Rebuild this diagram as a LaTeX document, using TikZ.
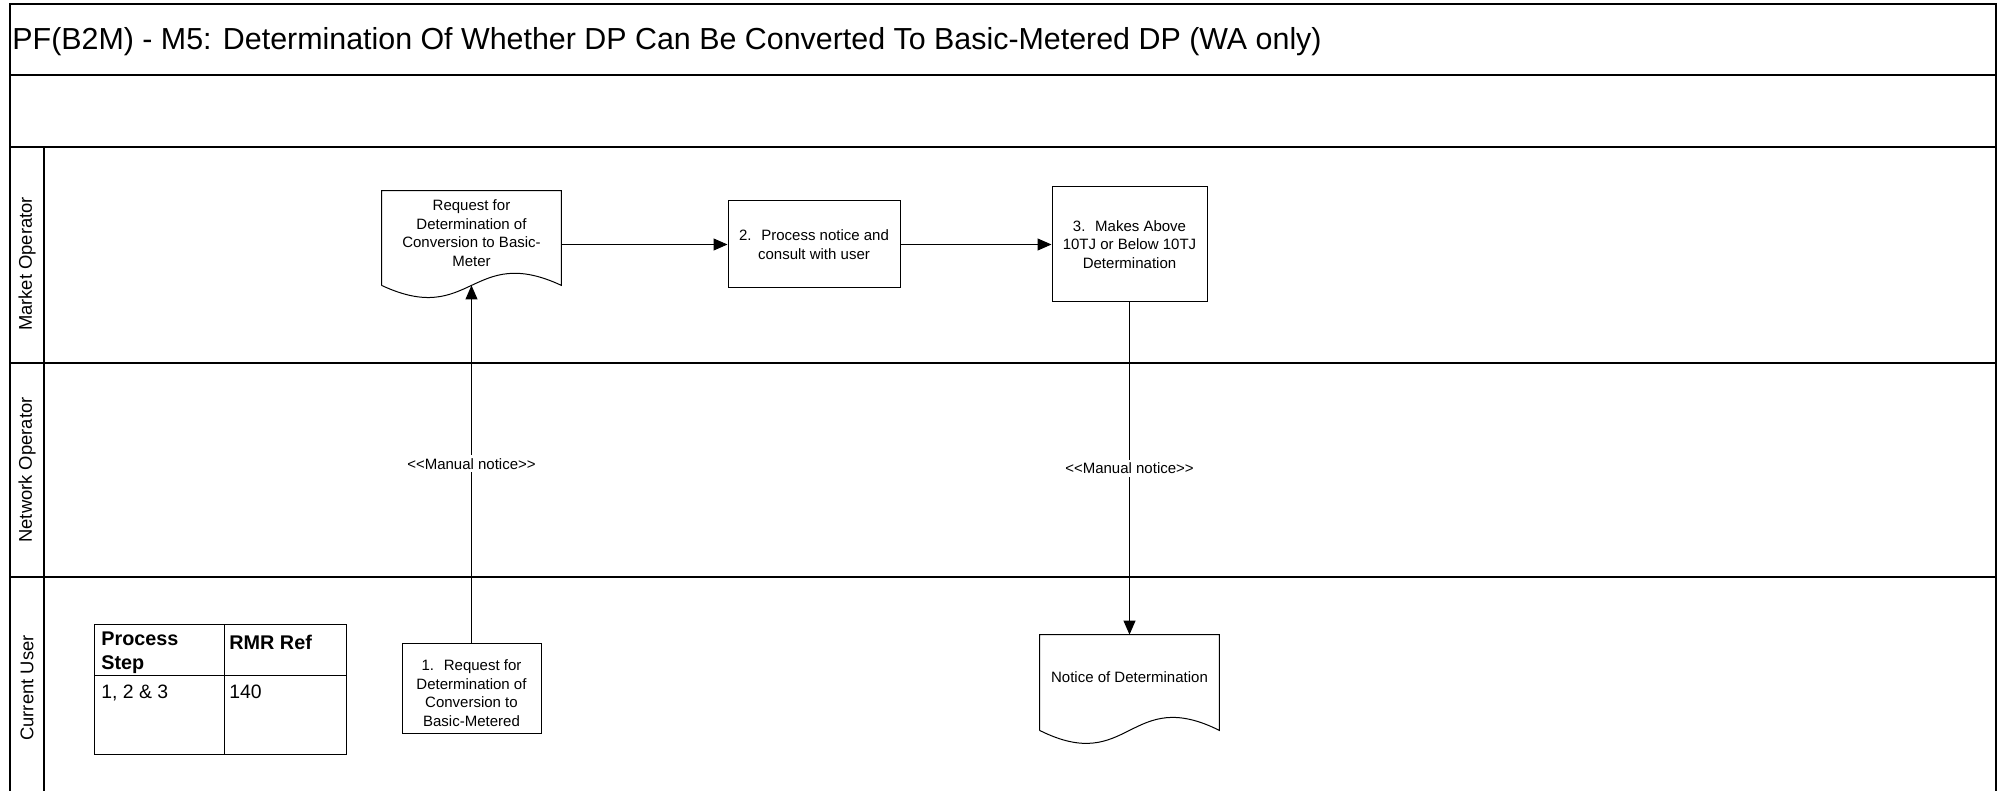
\documentclass[tikz,border=0pt]{standalone}
\usepackage{fontspec}
\setmainfont{Liberation Sans}
\usetikzlibrary{arrows.meta, calc}

% outline of a document shape round a node: top, two sides, wavy bottom
\newcommand{\docoutline}[2]{%
  \draw[line width=0.5pt] (#1.south west) -- (#1.north west) -- (#1.north east) -- (#1.south east)
    .. controls ($(#1.south)+(0,-#2)$) and ($(#1.south)+(0,#2)$) .. (#1.south west);}
\newcommand{\manualnote}{<\kern0pt<Manual notice>\kern0pt>}

\begin{document}
\begin{tikzpicture}[x=0.5pt, y=-0.5pt,
    >={Triangle[length=7pt, width=6pt]},
    frame/.style={line width=0.9pt},
    lane/.style={line width=0.6pt},
    small/.style={font=\fontsize{7.5}{9.3}\selectfont},
    procbox/.style={draw, small, line width=0.5pt, align=center, inner sep=2pt},
    docbox/.style={small, align=center, inner sep=2pt},
    flow/.style={->, line width=0.5pt},
    flowlab/.style={small, fill=white, inner sep=1.5pt},
    lanelab/.style={rotate=90, font=\fontsize{9.2}{11}\selectfont},
    cell/.style={draw, line width=0.5pt, anchor=north west, inner sep=0pt},
    celltext/.style={anchor=north west, align=left, inner sep=0pt,
                     font=\fontsize{9.7}{12}\selectfont},
    cellhead/.style={celltext, font=\fontsize{9.9}{12.3}\selectfont\bfseries}]
  \useasboundingbox (0,0) rectangle (1998,791);

  % frame, title and swimlanes
  \draw[frame] (10,791) -- (10,4) -- (1996,4) -- (1996,791);
  \draw[frame] (10,75) -- (1996,75);
  \draw[frame] (10,147) -- (1996,147);
  \draw[lane] (10,363) -- (1996,363);
  \draw[lane] (10,577) -- (1996,577);
  \draw[lane] (44,147) -- (44,791);
  \node[anchor=west, inner sep=0pt, font=\fontsize{15.2}{18}\selectfont] (title) at (12,42)
    {PF(B2M) - M5: Determination Of Whether DP Can Be Converted To Basic-Metered DP (WA only)};
  \node[lanelab] (mo) at (27,264) {Market Operator};
  \node[lanelab] (no) at (27,470) {Network Operator};
  \node[lanelab] (cu) at (27,688) {Current User};

  % steps
  \node[docbox, minimum width=89.5pt, minimum height=47pt] (reqdoc) at (471.5,238)
    {Request for\\Determination of\\Conversion to Basic-\\Meter\\[-4.3pt]\mbox{}};
  \docoutline{reqdoc}{42}
  \node[procbox, minimum width=86pt, minimum height=43.5pt] (consult) at (814,244.5)
    {2.~ Process notice and\\consult with user};
  \node[procbox, minimum width=77.5pt, minimum height=57.5pt] (decide) at (1129.5,244.5)
    {3.~ Makes Above\\10TJ or Below 10TJ\\Determination};
  \node[procbox, minimum width=69.5pt, minimum height=45pt] (request) at (471.5,688)
    {\mbox{}\\[1.1pt]1.~ Request for\\Determination of\\Conversion to\\Basic-Metered};
  \node[docbox, minimum width=89.5pt, minimum height=47.5pt] (notice) at (1129.5,682.5)
    {Notice of Determination\\[-4.3pt]\mbox{}};
  \docoutline{notice}{45}

  \draw[flow] (request) -- node[flowlab]{\manualnote} (reqdoc.south);
  \draw[flow] (reqdoc.east |- consult) -- (consult);
  \draw[flow] (consult) -- (decide);
  \draw[flow] (decide) -- node[flowlab]{\manualnote} (notice);

  % RMR reference table
  \node[cell, minimum width=65pt, minimum height=25.5pt] (stephead) at (94,624) {};
  \node[cell, minimum width=61pt, minimum height=25.5pt] (refhead) at (224,624) {};
  \node[cell, minimum width=65pt, minimum height=39.5pt] (stepval) at (94,675) {};
  \node[cell, minimum width=61pt, minimum height=39.5pt] (refval) at (224,675) {};
  \node[cellhead] (steptxt) at ($(stephead.north west)+(7,7)$) {Process\\Step};
  \node[cellhead] (reftxt) at ($(refhead.north west)+(5,11)$) {RMR Ref};
  \node[celltext] (stepnum) at ($(stepval.north west)+(7,10)$) {1, 2 \& 3};
  \node[celltext] (refnum) at ($(refval.north west)+(5,10)$) {140};
\end{tikzpicture}
\end{document}
